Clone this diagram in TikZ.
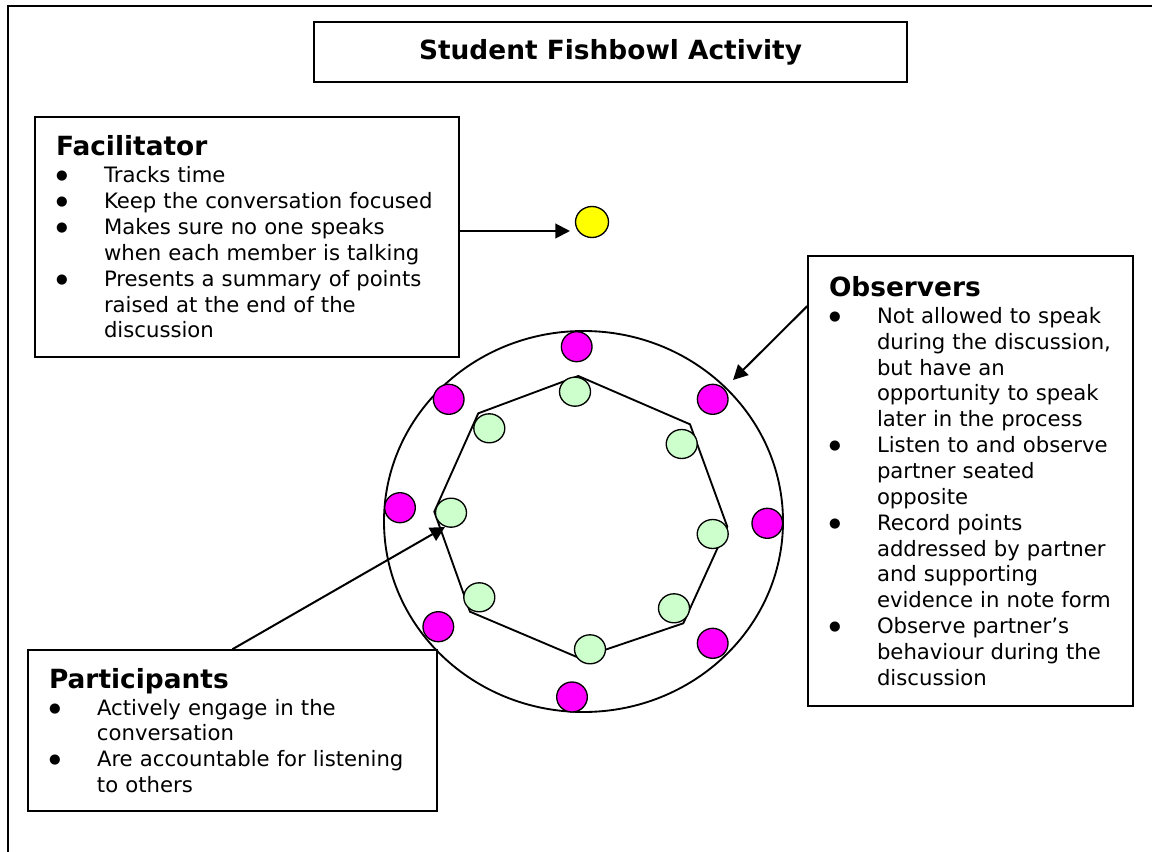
\documentclass[tikz,border=0pt]{standalone}
\usepackage{fontspec}
\setmainfont{DejaVu Sans}
\usetikzlibrary{arrows.meta,calc,shapes.geometric}
\definecolor{seatpink}{RGB}{255,0,255}
\definecolor{seatgreen}{RGB}{204,255,204}
\definecolor{seatyellow}{RGB}{255,255,0}
\def\bigbul{\raisebox{2.2pt}{\fontsize{10}{0}\selectfont ●}}
\def\head#1{\noindent{\fontsize{19.8}{20}\selectfont\bfseries #1}\par\vskip 0.85pt}
\def\bul#1{\par\noindent\hbox to 36pt{\bigbul\hss}\mbox{#1}}
\def\cont#1{\par\noindent\hspace*{36pt}\mbox{#1}}
\tikzset{
	box/.style={draw, line width=1.2pt, inner sep=0pt},
	note/.style={box, inner xsep=15.75pt, align=left, font=\fontsize{15.9}{19.4}\selectfont},
	seat/.style={ellipse, draw, line width=1pt, inner sep=0pt, minimum width=23pt, minimum height=22.5pt},
	pinkseat/.style={seat, fill=seatpink},
	greenseat/.style={seat, fill=seatgreen, minimum width=23.25pt, minimum height=21.75pt},
	arr/.style={line width=1.5pt, -{Triangle[length=11pt,width=11pt]}}
}

\begin{document}
\begin{tikzpicture}[x=0.75pt, y=-0.75pt]
			%%%%% START %%%%%
			\useasboundingbox (0,0) rectangle (1152,852);
			
			\draw[line width=2pt] (8,860) -- (8,6) -- (1160,6);
			
			\node[box, minimum width=444.75pt, minimum height=45pt, font=\fontsize{19.8}{20}\selectfont\bfseries] (title) at (610.5,52) {Student Fishbowl Activity};
			
			\node[note, text width=286.5pt, minimum height=180pt] (fac) at (247,237) {%
				\head{Facilitator}
				\bul{Tracks time}
				\bul{Keep the conversation focused}
				\bul{Makes sure no one speaks}
				\cont{when each member is talking}
				\bul{Presents a summary of points}
				\cont{raised at the end of the}
				\cont{discussion}};
			
			\node[note, text width=212.25pt, minimum height=337.5pt] (obs) at (970.5,481) {%
				\head{Observers}
				\bul{Not allowed to speak}
				\cont{during the discussion,}
				\cont{but have an}
				\cont{opportunity to speak}
				\cont{later in the process}
				\bul{Listen to and observe}
				\cont{partner seated}
				\cont{opposite}
				\bul{Record points}
				\cont{addressed by partner}
				\cont{and supporting}
				\cont{evidence in note form}
				\bul{Observe partner’s}
				\cont{behaviour during the}
				\cont{discussion}};
			
			\node[note, text width=275.25pt, minimum height=120.75pt] (part) at (232.5,730.5) {%
				\head{Participants}
				\bul{Actively engage in the}
				\cont{conversation}
				\bul{Are accountable for listening}
				\cont{to others}};
			
			\node[seat, fill=seatyellow, minimum width=24.75pt, minimum height=23.25pt] (yel) at (592,222) {};
			
			\draw[line width=1.4pt] (583.5,521.5) ellipse (199.5 and 190.5);
			\draw[line width=1.4pt] (578.3,376) -- (478.3,413.3) -- (434.3,511.7) -- (470,611.7) -- (580,658.3) -- (683.3,623.3) -- (727.3,526.7) -- (690,424.3) -- cycle;
			
			\node[pinkseat] (o1) at (576.7,346.7) {};
			\node[pinkseat] (o2) at (712.7,399.3) {};
			\node[pinkseat] (o3) at (767.3,523.3) {};
			\node[pinkseat] (o4) at (712.7,643.3) {};
			\node[pinkseat] (o5) at (572,697) {};
			\node[pinkseat] (o6) at (438.3,626.7) {};
			\node[pinkseat] (o7) at (400,507.7) {};
			\node[pinkseat] (o8) at (448.7,399.3) {};
			
			\node[greenseat] (p1) at (575,391.7) {};
			\node[greenseat] (p2) at (681.7,444) {};
			\node[greenseat] (p3) at (712.7,534) {};
			\node[greenseat] (p4) at (674,608.3) {};
			\node[greenseat] (p5) at (590,649.3) {};
			\node[greenseat] (p6) at (479.3,597.3) {};
			\node[greenseat] (p7) at (451,512.7) {};
			\node[greenseat] (p8) at (489.3,428.3) {};
			
			\coordinate (ftip) at (570,231);
			\coordinate (otip) at (733,380);
			\coordinate (ptip) at (445,527);
			\draw[arr] ($(fac.east)+(0,-6)$) -- (ftip);
			\draw[arr] ($(obs.north west)+(0,51)$) -- (otip);
			\draw[arr] (part.north) -- (ptip);
			
			%%%%% END %%%%%
\end{tikzpicture}
\end{document}
